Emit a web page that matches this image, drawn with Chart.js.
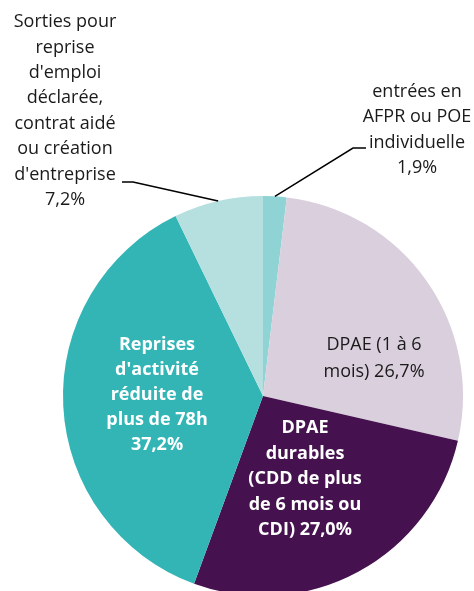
<!DOCTYPE html>
<html>
<head>
<meta charset="utf-8">
<script src="https://cdn.jsdelivr.net/npm/chart.js@4"></script>
<style>
  html, body { margin: 0; padding: 0; background: #fff; overflow: hidden; }
  #wrap { position: absolute; left: 0; top: 0; width: 474px; height: 600px; }
</style>
</head>
<body>
<div id="wrap"><canvas id="pie" width="474" height="600"></canvas></div>
<script>
const categories = [
  "entrées en AFPR ou POE individuelle",
  "DPAE (1 à 6 mois)",
  "DPAE durables (CDD de plus de 6 mois ou CDI)",
  "Reprises d'activité réduite de plus de 78h",
  "Sorties pour reprise d'emploi déclarée, contrat aidé ou création d'entreprise"
];
const shares = [1.9, 26.7, 27.0, 37.2, 7.2];
const sliceColors = ["#8fd3d5", "#d9cfdd", "#46114f", "#33b5b6", "#b6dfe0"];
const labelLines = [
  ["entrées en", "AFPR ou POE", "individuelle", "1,9%"],
  ["DPAE (1 à 6", "mois) 26,7%"],
  ["DPAE", "durables", "(CDD de plus", "de 6 mois ou", "CDI) 27,0%"],
  ["Reprises", "d'activité", "réduite de", "plus de 78h", "37,2%"],
  ["Sorties pour", "reprise", "d'emploi", "déclarée,", "contrat aidé", "ou création", "d'entreprise", "7,2%"]
];

// label placement, in units of the pie radius from its centre
const labelStyle = [
  { x: 0.77, y: -1.52, color: "#1a1a1a", bold: false, gap: 25.3, leader: [[0.45, -1.24], [0.515, -1.24]] },
  { x: 0.555, y: -0.255, color: "#1a1a1a", bold: false, gap: 26.5 },
  { x: 0.21, y: 0.16, color: "#ffffff", bold: true, gap: 25.5 },
  { x: -0.53, y: -0.255, color: "#ffffff", bold: true, gap: 25 },
  { x: -0.99, y: -1.87, color: "#1a1a1a", bold: false, gap: 25.4, leader: [[-0.65, -1.07], [-0.705, -1.07]] }
];

const labelPlugin = {
  id: "sliceLabels",
  afterDraw(chart) {
    const ctx = chart.ctx;
    const arcs = chart.getDatasetMeta(0).data;
    ctx.save();
    arcs.forEach((arc, i) => {
      const s = labelStyle[i];
      const r = arc.outerRadius, cx = arc.x, cy = arc.y;
      if (s.leader) {
        const mid = (arc.startAngle + arc.endAngle) / 2;
        ctx.beginPath();
        ctx.strokeStyle = "#000";
        ctx.lineWidth = 1.5;
        ctx.moveTo(cx + Math.cos(mid) * r, cy + Math.sin(mid) * r);
        s.leader.forEach(p => ctx.lineTo(cx + p[0] * r, cy + p[1] * r));
        ctx.stroke();
      }
      ctx.fillStyle = s.color;
      ctx.font = (s.bold ? "bold " : "") + "18px 'Open Sans'";
      ctx.textAlign = "center";
      ctx.textBaseline = "middle";
      labelLines[i].forEach((line, k) => {
        ctx.fillText(line, cx + s.x * r, cy + s.y * r + k * s.gap);
      });
    });
    ctx.restore();
  }
};

new Chart(document.getElementById("pie"), {
  type: "pie",
  data: {
    labels: categories,
    datasets: [{ data: shares, backgroundColor: sliceColors, borderWidth: 0 }]
  },
  options: {
    responsive: false,
    animation: false,
    layout: { padding: { left: 63, right: 11, top: 196, bottom: 4 } },
    plugins: { legend: { display: false }, tooltip: { enabled: false } }
  },
  plugins: [labelPlugin]
});
</script>
</body>
</html>
